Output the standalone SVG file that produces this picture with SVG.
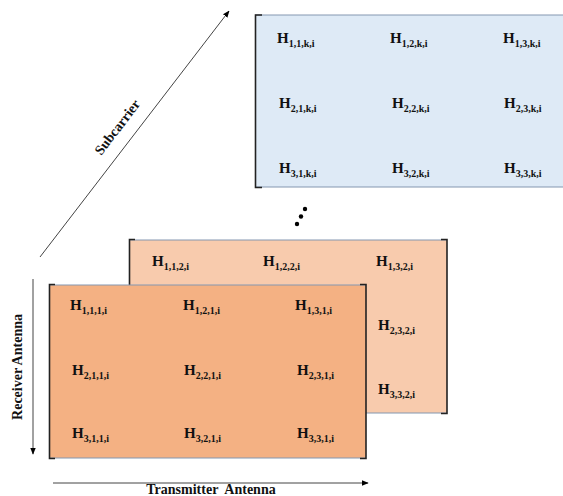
<svg xmlns="http://www.w3.org/2000/svg" width="563" height="496" viewBox="0 0 563 496">
<defs>
<marker id="ah" viewBox="0 0 10 10" refX="9" refY="5" markerWidth="7" markerHeight="7" orient="auto" markerUnits="userSpaceOnUse">
<path d="M0,1 L10,5 L0,9 Z" fill="#000"/>
</marker>
<style>
.h{font-family:"Liberation Serif","Times New Roman",serif;font-weight:bold;font-size:15px;fill:#111}
.s{font-size:10px}
.lbl{font-family:"Liberation Serif","Times New Roman",serif;font-weight:bold;font-size:14px;fill:#111}
.edge{stroke:#8497b0;stroke-width:1;fill:none}
.br{stroke:#222;stroke-width:1.6;fill:none}
.ax{stroke:#444;stroke-width:1;fill:none;marker-end:url(#ah)}
</style>
</defs>
<rect width="563" height="496" fill="#fff"/>

<g id="matrix-k">
<rect x="255" y="15" width="310" height="172" fill="#deeaf6"/>
<path class="edge" d="M255,15 H563 M255,187 H563"/>
<path class="br" d="M262,15 H255.5 V187.5 H262"/>
<text class="h" x="277" y="43">H<tspan class="s" dy="4">1,1,k,i</tspan></text>
<text class="h" x="390" y="43">H<tspan class="s" dy="4">1,2,k,i</tspan></text>
<text class="h" x="503" y="43">H<tspan class="s" dy="4">1,3,k,i</tspan></text>
<text class="h" x="279" y="108">H<tspan class="s" dy="4">2,1,k,i</tspan></text>
<text class="h" x="392" y="108">H<tspan class="s" dy="4">2,2,k,i</tspan></text>
<text class="h" x="504" y="108">H<tspan class="s" dy="4">2,3,k,i</tspan></text>
<text class="h" x="279" y="173">H<tspan class="s" dy="4">3,1,k,i</tspan></text>
<text class="h" x="392" y="173">H<tspan class="s" dy="4">3,2,k,i</tspan></text>
<text class="h" x="504" y="173">H<tspan class="s" dy="4">3,3,k,i</tspan></text>
</g>

<g id="ellipsis">
<circle cx="305" cy="209" r="2.2" fill="#000"/>
<circle cx="301" cy="216.5" r="2.2" fill="#000"/>
<circle cx="297" cy="224" r="2.2" fill="#000"/>
</g>

<g id="matrix-2">
<rect x="129" y="240" width="318" height="173" fill="#f8cbad"/>
<path class="edge" d="M129,240 H447 M129,413 H447"/>
<path class="br" d="M135,239.5 H129.5 V290"/>
<path class="br" d="M441,239.5 H447 V413.5 H441"/>
<text class="h" x="152" y="266">H<tspan class="s" dy="4">1,1,2,i</tspan></text>
<text class="h" x="263" y="266">H<tspan class="s" dy="4">1,2,2,i</tspan></text>
<text class="h" x="376" y="266">H<tspan class="s" dy="4">1,3,2,i</tspan></text>
<text class="h" x="378" y="330">H<tspan class="s" dy="4">2,3,2,i</tspan></text>
<text class="h" x="378" y="394">H<tspan class="s" dy="4">3,3,2,i</tspan></text>
</g>

<g id="matrix-1">
<rect x="49" y="285" width="317" height="173" fill="#f4b183"/>
<path class="edge" d="M49,285 H366 M49,458 H366"/>
<path class="br" d="M55,284.5 H49.5 V458.5 H55"/>
<path class="br" d="M360,284.5 H366 V458.5 H360"/>
<text class="h" x="70" y="310">H<tspan class="s" dy="4">1,1,1,i</tspan></text>
<text class="h" x="183" y="310">H<tspan class="s" dy="4">1,2,1,i</tspan></text>
<text class="h" x="295" y="310">H<tspan class="s" dy="4">1,3,1,i</tspan></text>
<text class="h" x="72" y="375">H<tspan class="s" dy="4">2,1,1,i</tspan></text>
<text class="h" x="184" y="375">H<tspan class="s" dy="4">2,2,1,i</tspan></text>
<text class="h" x="297" y="375">H<tspan class="s" dy="4">2,3,1,i</tspan></text>
<text class="h" x="72" y="438">H<tspan class="s" dy="4">3,1,1,i</tspan></text>
<text class="h" x="184" y="438">H<tspan class="s" dy="4">3,2,1,i</tspan></text>
<text class="h" x="297" y="438">H<tspan class="s" dy="4">3,3,1,i</tspan></text>
</g>

<g id="connectors">
<line class="ax" x1="40" y1="257" x2="229" y2="11"/>
<line class="ax" x1="33" y1="279" x2="33" y2="454"/>
<line class="ax" x1="53" y1="483" x2="368" y2="483"/>
</g>

<g id="labels">
<text class="lbl" transform="translate(121,130) rotate(-52.6)" text-anchor="middle">Subcarrier</text>
<text class="lbl" transform="translate(22,367) rotate(-90)" text-anchor="middle">Receiver Antenna</text>
<text class="lbl" x="211" y="494" text-anchor="middle" xml:space="preserve">Transmitter  Antenna</text>
</g>
</svg>
